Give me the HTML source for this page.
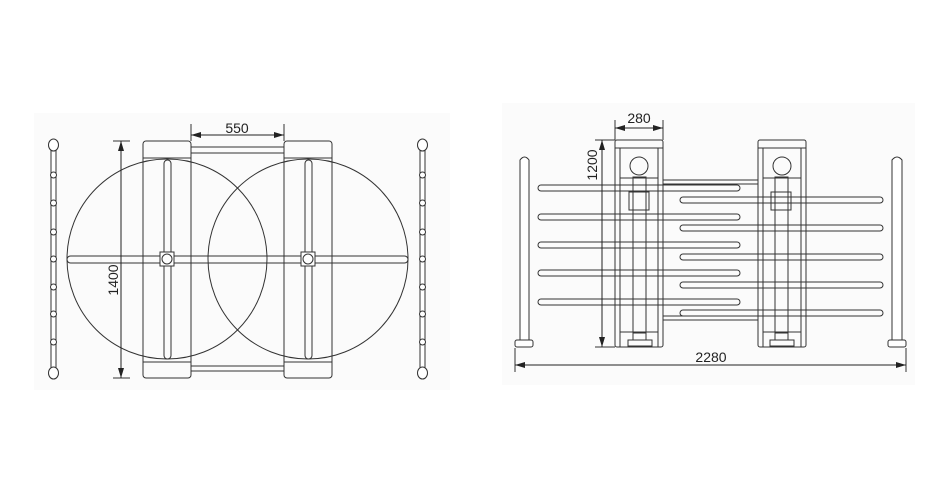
<!DOCTYPE html>
<html><head><style>html,body{margin:0;padding:0;background:#fff}svg{display:block}</style></head>
<body>
<svg width="950" height="500" viewBox="0 0 950 500" xmlns="http://www.w3.org/2000/svg" font-family="Liberation Sans, sans-serif">
<defs>
<marker id="ar" viewBox="0 0 10 6" refX="10" refY="3" markerWidth="10" markerHeight="6" markerUnits="userSpaceOnUse" orient="auto-start-reverse"><path d="M0,0 L10,3 L0,6 z" fill="#222"/></marker>
</defs>
<rect x="34" y="113" width="416" height="277" fill="#fbfbfb"/>
<rect x="502" y="103" width="413" height="282" fill="#fbfbfb"/>
<g fill="none" stroke="#333" stroke-width="1">
<!-- LEFT VIEW -->
<rect x="51" y="150" width="5" height="218" fill="#fff"/>
<rect x="420" y="150" width="5" height="218" fill="#fff"/>
<g fill="#fff">
<ellipse cx="53.5" cy="145" rx="5" ry="6"/><ellipse cx="53.5" cy="373" rx="5" ry="6"/>
<ellipse cx="422.5" cy="145" rx="5" ry="6"/><ellipse cx="422.5" cy="373" rx="5" ry="6"/>
<circle cx="53.5" cy="175" r="3"/><circle cx="53.5" cy="203" r="3"/><circle cx="53.5" cy="232" r="3"/><circle cx="53.5" cy="259" r="3"/><circle cx="53.5" cy="287" r="3"/><circle cx="53.5" cy="314" r="3"/><circle cx="53.5" cy="342" r="3"/>
<circle cx="422.5" cy="175" r="3"/><circle cx="422.5" cy="203" r="3"/><circle cx="422.5" cy="232" r="3"/><circle cx="422.5" cy="259" r="3"/><circle cx="422.5" cy="287" r="3"/><circle cx="422.5" cy="314" r="3"/><circle cx="422.5" cy="342" r="3"/>
</g>
<rect x="143" y="141" width="48" height="237" rx="3"/>
<rect x="284" y="141" width="48" height="237" rx="3"/>
<line x1="143" y1="158" x2="191" y2="158"/><line x1="143" y1="362" x2="191" y2="362"/>
<line x1="284" y1="158" x2="332" y2="158"/><line x1="284" y1="362" x2="332" y2="362"/>
<rect x="191" y="147" width="93" height="6"/><rect x="191" y="366" width="93" height="5"/>
<circle cx="167" cy="259" r="100"/><circle cx="308" cy="259" r="100"/>
<rect x="164" y="160" width="7" height="199" rx="3.5"/>
<rect x="305" y="160" width="7" height="199" rx="3.5"/>
<rect x="67" y="256" width="341" height="7" rx="3.5"/>
<line x1="208" y1="256" x2="267" y2="256"/><line x1="208" y1="263" x2="267" y2="263"/>
<rect x="160" y="252" width="14" height="14" fill="#fff"/><circle cx="167" cy="259" r="5" fill="#fff"/>
<rect x="301" y="252" width="14" height="14" fill="#fff"/><circle cx="308" cy="259" r="5" fill="#fff"/>
<line x1="191" y1="124" x2="191" y2="141"/><line x1="284" y1="124" x2="284" y2="141"/>
<line x1="191" y1="135" x2="284" y2="135" stroke="#222" marker-start="url(#ar)" marker-end="url(#ar)"/>
<line x1="113" y1="141" x2="130" y2="141"/><line x1="113" y1="378" x2="130" y2="378"/>
<line x1="121" y1="141" x2="121" y2="378" stroke="#222" marker-start="url(#ar)" marker-end="url(#ar)"/>

<!-- RIGHT VIEW -->
<path d="M520,340 V160 Q524.5,154 529,160 V340" fill="#fff"/>
<rect x="515" y="340" width="18" height="7" rx="2" fill="#fff"/>
<path d="M892,340 V160 Q897,154 902,160 V340" fill="#fff"/>
<rect x="888" y="340" width="18" height="7" rx="2" fill="#fff"/>
<line x1="663" y1="180" x2="758" y2="180"/><line x1="663" y1="184" x2="758" y2="184"/>
<line x1="663" y1="320" x2="758" y2="320"/><line x1="663" y1="316" x2="758" y2="316"/>
<!-- left turnstile -->
<rect x="615" y="140" width="48" height="207" rx="2"/>
<line x1="615" y1="148" x2="663" y2="148"/>
<line x1="620" y1="148" x2="620" y2="347"/><line x1="658" y1="148" x2="658" y2="347"/>
<line x1="620" y1="178" x2="658" y2="178"/><line x1="620" y1="332" x2="658" y2="332"/>
<circle cx="639" cy="166" r="9"/>
<rect x="633" y="177" width="13" height="156"/>
<rect x="629" y="192" width="20" height="18"/>
<rect x="633" y="333" width="13" height="7"/><rect x="628" y="340" width="24" height="6"/>
<!-- right turnstile -->
<rect x="758" y="140" width="48" height="207" rx="2"/>
<line x1="758" y1="148" x2="806" y2="148"/>
<line x1="763" y1="148" x2="763" y2="347"/><line x1="801" y1="148" x2="801" y2="347"/>
<line x1="763" y1="178" x2="801" y2="178"/><line x1="763" y1="332" x2="801" y2="332"/>
<circle cx="782" cy="166" r="9"/>
<rect x="775" y="177" width="13" height="156"/>
<rect x="771" y="192" width="20" height="18"/>
<rect x="775" y="333" width="13" height="7"/><rect x="770" y="340" width="24" height="6"/>
<!-- arms (wireframe, drawn over) -->
<rect x="538" y="185" width="202" height="6" rx="3"/>
<rect x="538" y="214" width="202" height="6" rx="3"/>
<rect x="538" y="242" width="202" height="6" rx="3"/>
<rect x="538" y="270" width="202" height="6" rx="3"/>
<rect x="538" y="299" width="202" height="6" rx="3"/>
<rect x="680" y="197" width="203" height="6" rx="3"/>
<rect x="680" y="225" width="203" height="6" rx="3"/>
<rect x="680" y="254" width="203" height="6" rx="3"/>
<rect x="680" y="282" width="203" height="6" rx="3"/>
<rect x="680" y="310" width="203" height="6" rx="3"/>
<!-- dims -->
<line x1="615" y1="120" x2="615" y2="140"/><line x1="663" y1="120" x2="663" y2="140"/>
<line x1="615" y1="128" x2="663" y2="128" stroke="#222" marker-start="url(#ar)" marker-end="url(#ar)"/>
<line x1="595" y1="140" x2="615" y2="140"/><line x1="595" y1="347" x2="615" y2="347"/>
<line x1="602" y1="140" x2="602" y2="347" stroke="#222" marker-start="url(#ar)" marker-end="url(#ar)"/>
<line x1="515" y1="348" x2="515" y2="372"/><line x1="906" y1="348" x2="906" y2="372"/>
<line x1="515" y1="365" x2="906" y2="365" stroke="#222" marker-start="url(#ar)" marker-end="url(#ar)"/>
</g>
<g fill="#222" font-size="14">
<text x="237" y="133" text-anchor="middle">550</text>
<text transform="translate(118,280) rotate(-90)" text-anchor="middle">1400</text>
<text x="639" y="123" text-anchor="middle">280</text>
<text transform="translate(597,165) rotate(-90)" text-anchor="middle">1200</text>
<text x="711" y="362" text-anchor="middle">2280</text>
</g>
</svg>
</body></html>
